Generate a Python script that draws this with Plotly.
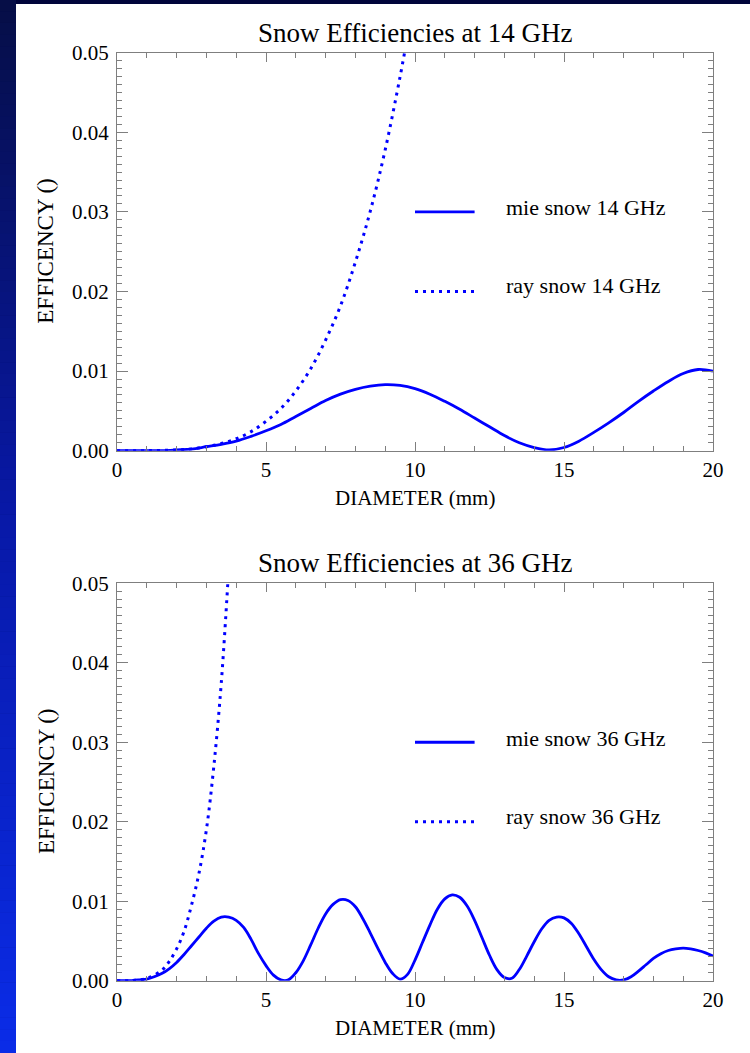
import plotly.graph_objects as go

# ---------------- data: efficiency vs. snow particle diameter ----------------
# 14 GHz, Mie
diam_mie14 = [0, 0.5, 1, 1.5, 2, 2.5, 3, 3.5, 4, 4.5, 5, 5.5, 6, 6.5, 7, 7.5, 8, 8.5,
              9, 9.5, 10, 10.5, 11, 11.5, 12, 12.5, 13, 13.5, 14, 14.5, 15, 15.5,
              16, 16.5, 17, 17.5, 18, 18.5, 19, 19.5, 20]
mie14 = [0.0, 0.0, 0.0, 0.00002, 0.0001, 0.0002, 0.0005, 0.0008, 0.0012, 0.0018,
         0.0025, 0.0033, 0.0043, 0.0053, 0.0063, 0.0071, 0.0077, 0.0081, 0.0083,
         0.0082, 0.0078, 0.0071, 0.0062, 0.0052, 0.0041, 0.0030, 0.0019, 0.0010,
         0.0004, 0.0001, 0.0004, 0.0012, 0.0023, 0.0035, 0.0048, 0.0062, 0.0075,
         0.0087, 0.0097, 0.0102, 0.0100]

# 14 GHz, Rayleigh
diam_ray14 = [0, 1, 2, 2.5, 3, 3.5, 4, 4.5, 5, 5.5, 6, 6.5, 7, 7.5, 8, 8.5, 9, 9.5, 9.75]
ray14 = [0.0, 0.00001, 0.0001, 0.00023, 0.0005, 0.0009, 0.0015, 0.0024, 0.0037,
         0.0053, 0.0075, 0.0103, 0.0139, 0.0182, 0.0237, 0.0301, 0.0378, 0.0470, 0.0521]

# 36 GHz, Mie
diam_mie36 = [0, 0.25, 0.5, 0.75, 1.0, 1.25, 1.5, 1.75, 2.0, 2.25, 2.5, 2.75, 3.0, 3.25,
              3.5, 3.75, 4.0, 4.25, 4.5, 4.75, 5.0, 5.25, 5.5, 5.75, 6.0, 6.25, 6.5,
              6.75, 7.0, 7.25, 7.5, 7.75, 8.0, 8.25, 8.5, 8.75, 9.0, 9.25, 9.5, 9.75,
              10.0, 10.25, 10.5, 10.75, 11.0, 11.25, 11.5, 11.75, 12.0, 12.25, 12.5,
              12.75, 13.0, 13.25, 13.5, 13.75, 14.0, 14.25, 14.5, 14.75, 15.0, 15.25,
              15.5, 15.75, 16.0, 16.25, 16.5, 16.75, 17.0, 17.25, 17.5, 17.75, 18.0,
              18.25, 18.5, 18.75, 19.0, 19.25, 19.5, 19.75, 20.0]
mie36 = [0.0, 0.0, 0.00002, 0.0001, 0.0002, 0.0005, 0.0009, 0.0015, 0.0023, 0.0033,
         0.0044, 0.0055, 0.0066, 0.0075, 0.0080, 0.0080, 0.0076, 0.0067, 0.0052,
         0.0034, 0.0019, 0.0007, 0.0001, 0.0001, 0.0010, 0.0025, 0.0045, 0.0066,
         0.0084, 0.0096, 0.0102, 0.0101, 0.0093, 0.0078, 0.0060, 0.0041, 0.0023,
         0.0009, 0.0002, 0.0008, 0.0026, 0.0048, 0.0070, 0.0090, 0.0103, 0.0108,
         0.0105, 0.0094, 0.0076, 0.0054, 0.0032, 0.0014, 0.0004, 0.0003, 0.0014,
         0.0031, 0.0049, 0.0065, 0.0076, 0.0080, 0.0079, 0.0072, 0.0059, 0.0043,
         0.0027, 0.0014, 0.0005, 0.0001, 0.0001, 0.0005, 0.0012, 0.0020, 0.0028,
         0.0034, 0.0038, 0.0040, 0.0041, 0.0040, 0.0038, 0.0035, 0.0031]

# 36 GHz, Rayleigh
diam_ray36 = [0, 0.5, 1.0, 1.5, 1.75, 2.0, 2.25, 2.5, 2.75, 3.0, 3.25, 3.5, 3.75]
ray36 = [0.0, 0.00002, 0.0003, 0.0013, 0.0024, 0.0040, 0.0062, 0.0095, 0.0135,
         0.0190, 0.0270, 0.0375, 0.0520]

panels = [
    ("Snow Efficiencies at 14 GHz", "14 GHz", diam_mie14, mie14, diam_ray14, ray14),
    ("Snow Efficiencies at 36 GHz", "36 GHz", diam_mie36, mie36, diam_ray36, ray36),
]

x_ticks = [0, 5, 10, 15, 20]
y_ticks = [0.00, 0.01, 0.02, 0.03, 0.04, 0.05]

# ---------------- layout geometry (pixels) ----------------
W, H = 750, 1053
PLOT_LEFT, PLOT_RIGHT = 117, 713
PANEL_Y = [(52.7, 450.7), (583.3, 980.7)]     # (top, bottom) of each plot box
FONT = "Liberation Serif, Times New Roman, serif"
LINE_BLUE = "#0000ff"
AXIS_GREY = "#7f7f7f"
DOTS = "3px,5px"


def fx(p):
    return p / W


def fy(p):
    return 1 - p / H


fig = go.Figure()
shapes = []
annotations = []

# slide-style background: blue gradient strip on the left, white page
n_bands = 90
stops = [(0, (6, 14, 70)), (500, (8, 24, 165)), (H, (10, 44, 232))]


def band_color(y):
    for (y0, c0), (y1, c1) in zip(stops[:-1], stops[1:]):
        if y0 <= y <= y1:
            t = (y - y0) / (y1 - y0)
            return "rgb(%d,%d,%d)" % tuple(round(a + (b - a) * t) for a, b in zip(c0, c1))
    return "rgb(%d,%d,%d)" % stops[-1][1]


for i in range(n_bands):
    y0 = H * i / n_bands
    y1 = H * (i + 1) / n_bands
    shapes.append(dict(type="rect", xref="paper", yref="paper", layer="below",
                       x0=0, x1=fx(16), y0=fy(y1), y1=min(1, fy(y0) + 0.0005),
                       fillcolor=band_color((y0 + y1) / 2), line=dict(width=0)))
shapes.append(dict(type="rect", xref="paper", yref="paper", layer="below",
                   x0=fx(16), x1=1, y0=0, y1=fy(4),
                   fillcolor="white", line=dict(width=0)))

for k, (title, freq, dm, vm, dr, vr) in enumerate(panels):
    sfx = "" if k == 0 else str(k + 1)
    xa, ya = "x" + sfx, "y" + sfx
    top, bot = PANEL_Y[k]

    fig.add_trace(go.Scatter(x=dm, y=vm, xaxis=xa, yaxis=ya, mode="lines",
                             line=dict(color=LINE_BLUE, width=2.8, shape="spline",
                                       smoothing=1.0),
                             name="mie snow " + freq, showlegend=False,
                             hoverinfo="skip"))
    fig.add_trace(go.Scatter(x=dr, y=vr, xaxis=xa, yaxis=ya, mode="lines",
                             line=dict(color=LINE_BLUE, width=3, dash=DOTS,
                                       shape="spline", smoothing=1.0),
                             name="ray snow " + freq, showlegend=False,
                             hoverinfo="skip"))

    axis_common = dict(showline=True, linecolor=AXIS_GREY, linewidth=1,
                       mirror="ticks", ticks="inside", tickcolor=AXIS_GREY,
                       tickwidth=1, showgrid=False, zeroline=False, automargin=False,
                       tickfont=dict(family=FONT, size=21, color="black"))
    fig.update_layout(**{
        "xaxis" + sfx: dict(axis_common, domain=[fx(PLOT_LEFT), fx(PLOT_RIGHT)],
                            anchor=ya, range=[0, 20], tickvals=x_ticks, ticklen=9,
                            ticklabelstandoff=0,
                            minor=dict(dtick=1, tick0=0, ticks="inside", ticklen=5,
                                       tickcolor=AXIS_GREY, showgrid=False)),
        "yaxis" + sfx: dict(axis_common, domain=[fy(bot), fy(top)], anchor=xa,
                            range=[0, 0.05], tickvals=y_ticks, tickformat=".2f",
                            ticklen=11, ticklabelstandoff=3,
                            minor=dict(dtick=0.001, tick0=0, ticks="inside",
                                       ticklen=5, tickcolor=AXIS_GREY,
                                       showgrid=False)),
    })

    # in-plot legend: sample lines and labels
    shapes.append(dict(type="line", xref=xa, yref=ya, x0=10.0, x1=12.0,
                       y0=0.030, y1=0.030,
                       line=dict(color=LINE_BLUE, width=2.8)))
    shapes.append(dict(type="line", xref=xa, yref=ya, x0=10.0, x1=12.0,
                       y0=0.020, y1=0.020,
                       line=dict(color=LINE_BLUE, width=3, dash=DOTS)))
    for yv, lab in [(0.0305, "mie snow " + freq), (0.0207, "ray snow " + freq)]:
        annotations.append(dict(xref=xa, yref=ya, x=13.0, y=yv, text=lab,
                                showarrow=False, xanchor="left", yanchor="middle",
                                font=dict(family=FONT, size=22, color="black")))

    # titles
    annotations.append(dict(xref="paper", yref="paper", x=fx((PLOT_LEFT + PLOT_RIGHT) / 2),
                            y=fy(top - 20), text=title, showarrow=False,
                            xanchor="center", yanchor="middle",
                            font=dict(family=FONT, size=27, color="black")))
    annotations.append(dict(xref="paper", yref="paper", x=fx((PLOT_LEFT + PLOT_RIGHT) / 2),
                            y=fy(bot + 47), text="DIAMETER (mm)", showarrow=False,
                            xanchor="center", yanchor="middle",
                            font=dict(family=FONT, size=21, color="black")))
    annotations.append(dict(xref="paper", yref="paper", x=fx(46),
                            y=fy((top + bot) / 2), text="EFFICENCY ()", showarrow=False,
                            textangle=-90, xanchor="center", yanchor="middle",
                            font=dict(family=FONT, size=23, color="black")))

fig.update_layout(template="none", width=W, height=H, autosize=False,
                  margin=dict(l=0, r=0, t=0, b=0, pad=0),
                  font=dict(family=FONT, color="black"),
                  paper_bgcolor="#00053a", plot_bgcolor="rgba(0,0,0,0)",
                  shapes=shapes, annotations=annotations, showlegend=False)

fig.write_html("out.html")
